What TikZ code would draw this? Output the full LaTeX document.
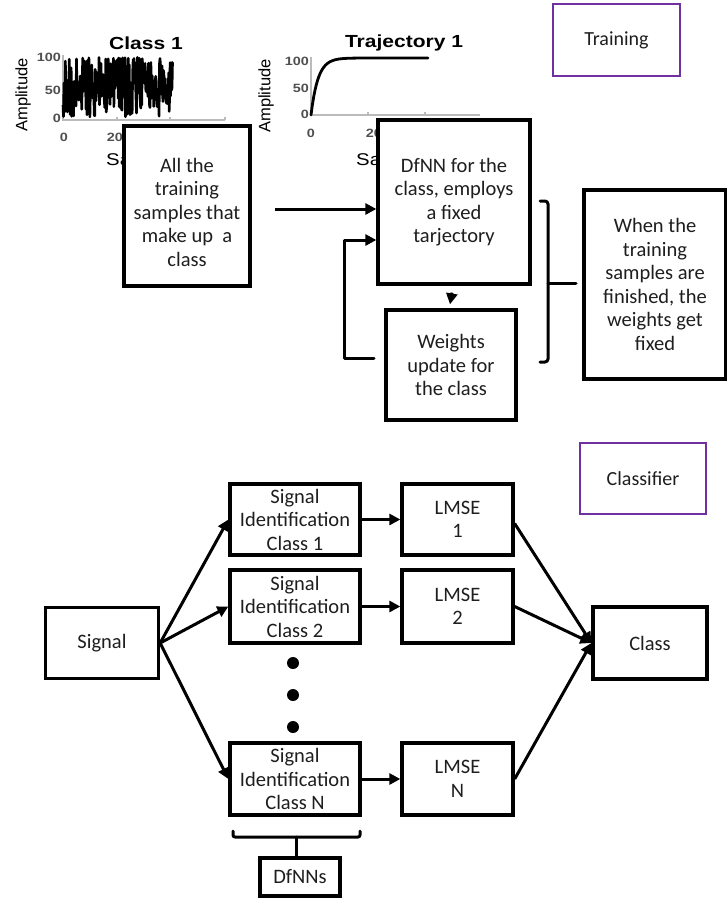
\documentclass[tikz,border=0pt]{standalone}
\usepackage{fontspec}
\setmainfont{Carlito}
\newfontfamily\plotfont[FakeStretch=1.2]{Liberation Sans}
\newfontfamily\plotplain{Liberation Sans}
\usetikzlibrary{arrows.meta,calc}
\definecolor{tagpurple}{HTML}{7030A0}
\definecolor{axisgray}{HTML}{BBBBBB}
\definecolor{tickgray}{HTML}{505050}
\definecolor{inktext}{HTML}{1E1E1E}

\begin{document}
\begin{tikzpicture}[x=1pt,y=-1pt,
  box/.style={draw, line width=3.3pt, fill=white, align=center, inner sep=0pt,
    text=inktext, font=\fontsize{20.5}{23.5}\selectfont},
  boxtext/.style={align=center, inner sep=0pt, text=inktext,
    font=\fontsize{20.5}{23.5}\selectfont},
  tagbox/.style={draw=tagpurple, line width=2.6pt, align=center, inner sep=0pt,
    text=inktext, font=\fontsize{20}{23}\selectfont},
  tip/.style={-{Triangle[length=11pt,width=11pt]}},
  arr/.style={line width=3pt, tip},
  link/.style={line width=3pt, line cap=round, line join=round},
  ticklbl/.style={font=\plotfont\bfseries\fontsize{12}{14}\selectfont, text=tickgray, inner sep=0pt},
  plottitle/.style={font=\plotfont\bfseries\fontsize{17.5}{20}\selectfont, inner sep=0pt},
  axislbl/.style={font=\plotplain\fontsize{16.5}{18}\selectfont, inner sep=0pt},
  xlbl/.style={font=\plotfont\fontsize{17}{19}\selectfont, inner sep=0pt, anchor=west},
  axisline/.style={draw=axisgray, line width=1.3pt},
  dot/.style={circle, fill=black, inner sep=0pt, minimum size=12pt},
]
\useasboundingbox (0,0) rectangle (727,900);

% ---------- small plot: Class 1 ----------
\node[plottitle] (t1) at (146,43) {Class 1};
\node[axislbl, rotate=90] (a1) at (23,95) {Amplitude};
\node[ticklbl, anchor=east] (y1a) at (61,57) {100};
\node[ticklbl, anchor=east] (y1b) at (61,90) {50};
\node[ticklbl, anchor=east] (y1c) at (61,118) {0};
\node[ticklbl] (x1a) at (64,137) {0};
\node[ticklbl] (x1b) at (119,137) {200};
\node[xlbl] (s1) at (106,160) {Sa};
\draw[axisline] (63,55) -- (63,120) -- (225,120);
\foreach \tx in {117,170,225} \draw[axisline] (\tx,120) -- (\tx,117);
\pgfmathsetseed{17}
\draw[line width=2.6pt, line join=round]
  plot[domain=63:173, samples=230, variable=\t] ({\t},{87-30*rand});

% ---------- small plot: Trajectory 1 ----------
\node[plottitle] (t2) at (404,43) {Trajectory 1};
\node[axislbl, rotate=90] (a2) at (266,96) {Amplitude};
\node[ticklbl, anchor=east] (y2a) at (309,61) {100};
\node[ticklbl, anchor=east] (y2b) at (309,88) {50};
\node[ticklbl, anchor=east] (y2c) at (309,114) {0};
\node[ticklbl] (x2a) at (311,133) {0};
\node[ticklbl] (x2b) at (378,133) {200};
\node[xlbl] (s2) at (356,160) {Sa};
\draw[axisline] (311,57) -- (311,115) -- (480,115);
\foreach \tx in {368,425} \draw[axisline] (\tx,115) -- (\tx,112);
\draw[line width=2.8pt, line cap=round, line join=round]
  plot[domain=311:428, samples=90] (\x,{115-57*(1-exp(-(\x-311)/7))});

% ---------- training stage ----------
\node[tagbox, minimum width=127pt, minimum height=72pt] (tagtrain) at (616.5,40) {Training};

\node[box, minimum width=126pt, minimum height=160pt] (samples) at (187,206) {};
\node[boxtext] (samplestext) at ($(samples)+(0,6)$)
  {All the\\training\\samples that\\make up\ \ a\\class};
\node[box, minimum width=152pt, minimum height=164pt] (dfnn) at (454,202)
  {DfNN for the\\class, employs\\a fixed\\tarjectory};
\node[box, minimum width=130pt, minimum height=110pt] (weights) at (451,365)
  {Weights\\update for\\the class};
\node[box, minimum width=142pt, minimum height=189pt] (fixed) at (655,284.5)
  {When the\\training\\samples are\\finished, the\\weights get\\fixed};

\coordinate (feedin) at (275,209);
\draw[arr] (feedin) -- (dfnn.west |- feedin);

\coordinate (fbstart) at (374,358);
\draw[link, tip]
  (fbstart) -- (344,358) -- (344,240) -- (dfnn.west |- 0,240);

\draw[arr] ($(dfnn.south)+(-2,7)$) -- ($(weights.north)+(-1,-4)$);

\coordinate (brtop) at (540,201);
\coordinate (brbot) at (540,362);
\coordinate (brtip) at (576,283);
\draw[link, rounded corners=3pt] (brtop) -- (548,201) -- (548,362) -- (brbot);
\draw[link] (548,283) -- (brtip);

% ---------- classifier stage ----------
\node[tagbox, minimum width=126pt, minimum height=71pt] (tagclass) at (643,478.5) {Classifier};

\node[box, minimum width=113pt, minimum height=71pt] (signal) at (102,643) {Signal};

\node[box, minimum width=130pt, minimum height=71pt] (sid1) at (295,519.5) {Signal\\Identification\\Class 1};
\node[box, minimum width=130pt, minimum height=73pt] (sid2) at (295,606.5) {Signal\\Identification\\Class 2};
\node[box, minimum width=130pt, minimum height=72pt] (sidN) at (295,779) {Signal\\Identification\\Class N};

\node[box, minimum width=111pt, minimum height=71pt] (lmse1) at (457.5,519.5) {LMSE\\1};
\node[box, minimum width=111pt, minimum height=73pt] (lmse2) at (457.5,606.5) {LMSE\\2};
\node[box, minimum width=111pt, minimum height=72pt] (lmseN) at (457.5,779) {LMSE\\N};

\node[box, minimum width=114pt, minimum height=72pt] (cls) at (650,643) {Class};

\node[dot] (d1) at (293,663) {};
\node[dot] (d2) at (293,695) {};
\node[dot] (d3) at (293,727) {};

\draw[arr] (signal.east) -- (sid1.west);
\draw[arr] (signal.east) -- (sid2.west);
\draw[arr] (signal.east) -- (sidN.west);

\draw[arr] (sid1.east) -- (lmse1.west);
\draw[arr] (sid2.east) -- (lmse2.west);
\draw[arr] (sidN.east) -- (lmseN.west);

\draw[arr] ($(lmse1.east)+(0,4)$) -- (cls.west);
\draw[arr] (lmse2.east) -- (cls.west);
\draw[arr] (lmseN.east) -- (cls.west);

\node[box, minimum width=80pt, minimum height=38pt] (dfnns) at (300,877) {DfNNs};

\coordinate (brl) at (233,831);
\coordinate (brr) at (360,831);
\draw[link, rounded corners=2pt] (brl) -- (233,837) -- (360,837) -- (brr);
\draw[link] (296,837) -- (dfnns.north -| 296,0);

\end{tikzpicture}
\end{document}
